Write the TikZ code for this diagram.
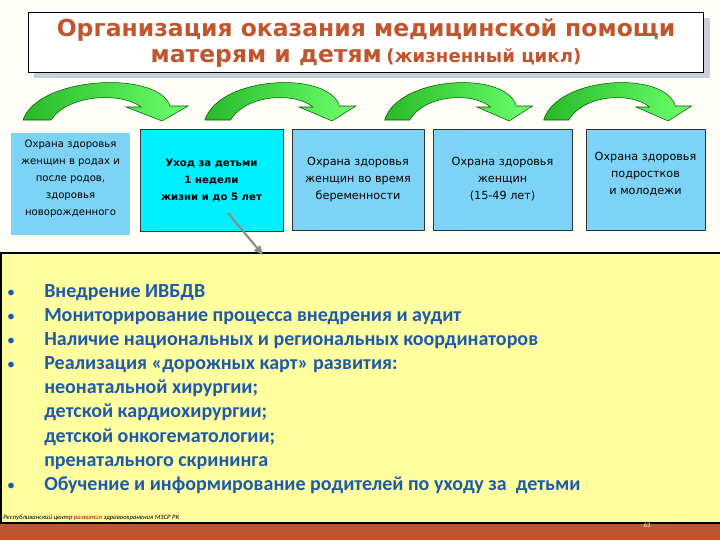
\documentclass[tikz,border=0pt]{standalone}
\usepackage{fontspec}
\setmainfont{Carlito}
\newfontfamily\titlefont{DejaVu Sans}
\newfontfamily\boxfont{DejaVu Sans}
\definecolor{bgcol}{RGB}{255,255,248}
\definecolor{titlecol}{RGB}{192,86,46}
\definecolor{shadowcol}{RGB}{200,208,220}
\definecolor{lightblue}{RGB}{125,211,245}
\definecolor{cyanbox}{RGB}{0,240,255}
\definecolor{panelcol}{RGB}{255,255,160}
\definecolor{bulletblue}{RGB}{30,90,170}
\definecolor{bandcol}{RGB}{192,86,48}
\definecolor{arrowdark}{RGB}{40,185,40}
\definecolor{arrowlight}{RGB}{110,255,110}
\usetikzlibrary{arrows.meta}
\tikzset{
  titlebox/.style={draw=black, fill=white, line width=0.8pt, minimum width=675*0.75pt, minimum height=60*0.75pt, inner sep=0pt},
  titletext/.style={text=titlecol, font=\titlefont\bfseries, inner sep=0pt},
  stagebox/.style={fill=lightblue, draw=black!80, line width=0.5pt, inner sep=0pt},
  boxtext/.style={font=\boxfont\fontsize{8.4pt}{12.75pt}\selectfont, align=center, inner sep=0pt},
  greenarrow/.style={left color=arrowdark, right color=arrowlight, draw=green!35!black, line width=0.4pt},
  pointer/.style={draw=black!45, line width=1.6pt, -{Triangle[length=7pt,width=6pt]}},
  bullettext/.style={anchor=base west, inner sep=0pt, text=bulletblue, font=\bfseries\fontsize{15pt}{18pt}\selectfont},
  bulletdot/.style={anchor=base, inner sep=0pt, text=bulletblue, font=\fontsize{12pt}{16pt}\selectfont}
}
\newcommand\curvedarrow[2]{%
  \begin{scope}[shift={(#1,0)}, xscale=#2]
    \path[greenarrow] (13,120) .. controls (28,76) and (148,70) .. (160,106)
      -- (178,106) -- (152,121) -- (116,107) -- (131,107)
      .. controls (112,92) and (58,94) .. (41,120) -- cycle;
  \end{scope}}
\begin{document}
\begin{tikzpicture}[x=0.75pt,y=-0.75pt]
\useasboundingbox (0,0) rectangle (720,540);
\fill[bgcol] (0,0) rectangle (720,540);
% title
\fill[shadowcol] (34,18) rectangle (710,78);
\node[titlebox, anchor=north west] (title) at (28,12) {};
\node[titletext, font=\titlefont\bfseries\fontsize{17.6pt}{20pt}\selectfont] (t1) at (366,30) {Организация оказания медицинской помощи};
\node[titletext] (t2) at (366,58) {{\fontsize{17.6pt}{20pt}\selectfont матерям и детям} {\fontsize{13.6pt}{16pt}\selectfont (жизненный цикл)}};
% curved arrows
\curvedarrow{10}{1}
\curvedarrow{193}{0.915}
\curvedarrow{373}{0.896}
\curvedarrow{532}{0.896}
% stage boxes
\node[stagebox, draw=none, minimum width=119*0.75pt, minimum height=102*0.75pt] (b1) at (70.5,184) {};
\node[stagebox, fill=cyanbox, minimum width=143*0.75pt, minimum height=102*0.75pt] (b2) at (211.5,180) {};
\node[stagebox, minimum width=132*0.75pt, minimum height=101*0.75pt] (b3) at (358,179.5) {};
\node[stagebox, minimum width=139*0.75pt, minimum height=101*0.75pt] (b4) at (502.5,179.5) {};
\node[stagebox, minimum width=119*0.75pt, minimum height=101*0.75pt] (b5) at (645.5,179.5) {};
\node[boxtext, font=\boxfont\fontsize{7.6pt}{12.75pt}\selectfont] (b1t) at (70.5,179) {Охрана здоровья\\женщин в родах и\\после родов,\\здоровья\\новорожденного};
\node[boxtext, font=\boxfont\bfseries\fontsize{7.6pt}{12.75pt}\selectfont] (b2t) at (211.5,180) {Уход за детьми\\1 недели\\жизни и до 5 лет};
\node[boxtext] (b3t) at (358,180) {Охрана здоровья\\женщин во время\\беременности};
\node[boxtext] (b4t) at (502.5,179) {Охрана здоровья\\женщин\\(15-49 лет)};
\node[boxtext] (b5t) at (645.5,174) {Охрана здоровья\\подростков\\и молодежи};
% panel
\fill[panelcol] (1,253) rectangle (722,523);
\draw[black, line width=0.8pt] (722,253) -- (1,253) -- (1,523) -- (722,523);
\node[inner sep=0pt, minimum width=720*0.75pt, minimum height=270*0.75pt, anchor=north west] (panel) at (1,253) {};
% band
\fill[bandcol] (0,524) rectangle (720,540);
% pointer
\coordinate (pa) at (228,213);
\coordinate (pb) at (263,255);
\draw[pointer] (pa) -- (pb);
% bullets
\foreach \y in {297,321,345,369,490} {\node[bulletdot] at (11,\y) {•};}
\node[bullettext] (l1) at (44,297) {Внедрение ИВБДВ};
\node[bullettext] (l2) at (44,321) {Мониторирование процесса внедрения и аудит};
\node[bullettext] (l3) at (44,345) {Наличие национальных и региональных координаторов};
\node[bullettext] (l4) at (44,369) {Реализация «дорожных карт» развития:};
\node[bullettext] (l5) at (44,393) {неонатальной хирургии;};
\node[bullettext] (l6) at (44,417) {детской кардиохирургии;};
\node[bullettext] (l7) at (44,442) {детской онкогематологии;};
\node[bullettext] (l8) at (44,466) {пренатального скрининга};
\node[bullettext] (l9) at (44,490) {Обучение и информирование родителей по уходу за\ \ детьми};
% footer
\node[anchor=base west, inner sep=0pt, font=\itshape\fontsize{5pt}{6pt}\selectfont] (foot) at (3,519) {Республиканский центр {\color{red!70!black}развития} здравоохранения МЗСР РК};
\node[anchor=center, inner sep=0pt, text=white!90!yellow, font=\fontsize{5pt}{6pt}\selectfont] (pg) at (647,525) {63};
\end{tikzpicture}
\end{document}
